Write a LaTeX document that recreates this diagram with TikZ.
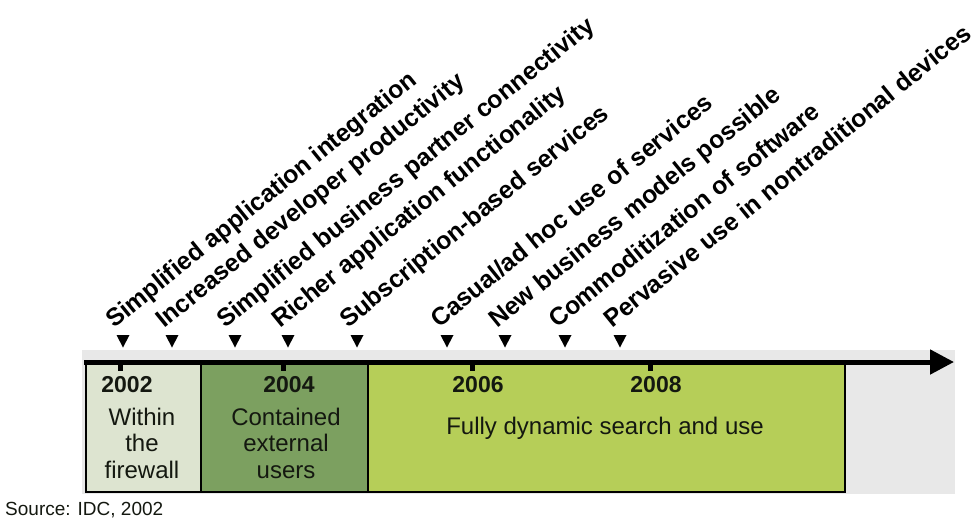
\documentclass[tikz,border=0pt]{standalone}
\usepackage{fontspec}
\setmainfont{Liberation Sans}
\usetikzlibrary{arrows.meta}

\definecolor{bandgray}{RGB}{232,232,232}
\definecolor{phaseone}{RGB}{221,228,208}
\definecolor{phasetwo}{RGB}{124,160,96}
\definecolor{phasethree}{RGB}{182,206,88}
\definecolor{inktext}{RGB}{20,24,16}

\tikzset{
  phasebox/.style={draw=black, line width=2.2pt, anchor=north west, inner sep=0pt},
  yearlbl/.style={font=\fontsize{23}{25}\selectfont\bfseries, text=inktext, inner sep=0pt},
  phaselbl/.style={font=\fontsize{24}{26.5}\selectfont, text=inktext, align=center, inner sep=0pt},
  trendlbl/.style={font=\fontsize{24.8}{26}\selectfont\bfseries, anchor=base west, rotate=39, inner sep=0pt},
  marker/.style={fill=black},
  tickmark/.style={fill=black},
}

\begin{document}
\begin{tikzpicture}[x=1pt,y=-1pt]
\useasboundingbox (0,0) rectangle (976,523);

% background band behind the time line
\fill[bandgray] (82,350) rectangle (955,494);

% phases
\node[phasebox, fill=phaseone,   minimum width=115pt, minimum height=128pt] (p1) at (85,363) {};
\node[phasebox, fill=phasetwo,   minimum width=167pt, minimum height=128pt] (p2) at (200,363) {};
\node[phasebox, fill=phasethree, minimum width=477pt, minimum height=128pt] (p3) at (367,363) {};

% time axis
\coordinate (axstart) at (84,362);
\coordinate (axend) at (954,362);
\draw[line width=5pt, -{Triangle[length=24pt,width=24pt]}] (axstart) -- (axend);

% year ticks
\foreach \tx in {120,283,472,650}
  \fill[tickmark] (\tx-2.5,362) rectangle (\tx+2.5,371);

% year labels
\node[yearlbl] (y2002) at (127,385) {2002};
\node[yearlbl] (y2004) at (289,385) {2004};
\node[yearlbl] (y2006) at (478,385) {2006};
\node[yearlbl] (y2008) at (656,385) {2008};

% phase descriptions
\node[phaselbl] (d1) at (142,443) {Within\\the\\firewall};
\node[phaselbl] (d2) at (286,443) {Contained\\external\\users};
\node[phaselbl] (d3) at (605,428) {Fully dynamic search and use};

% event markers
\foreach \mx in {123,172,235,288,357,447,505,565,620}
  \fill[marker] (\mx-6.5,335) -- (\mx+6.5,335) -- (\mx,347.5) -- cycle;

% trend labels
\node[trendlbl] (t1) at (114,329) {Simplified application integration};
\node[trendlbl] (t2) at (164,329) {Increased developer productivity};
\node[trendlbl] (t3) at (225,329) {Simplified business partner connectivity};
\node[trendlbl] (t4) at (280,329) {Richer application functionality};
\node[trendlbl] (t5) at (348,329) {Subscription-based services};
\node[trendlbl] (t6) at (439,329) {Casual/ad hoc use of services};
\node[trendlbl] (t7) at (497,329) {New business models possible};
\node[trendlbl] (t8) at (557,329) {Commoditization of software};
\node[trendlbl] (t9) at (612,329) {Pervasive use in nontraditional devices};

% source note
\node[anchor=base west, inner sep=0pt, font=\fontsize{19}{21}\selectfont, text=inktext] (src) at (5,515) {Source: IDC, 2002};
\end{tikzpicture}
\end{document}
